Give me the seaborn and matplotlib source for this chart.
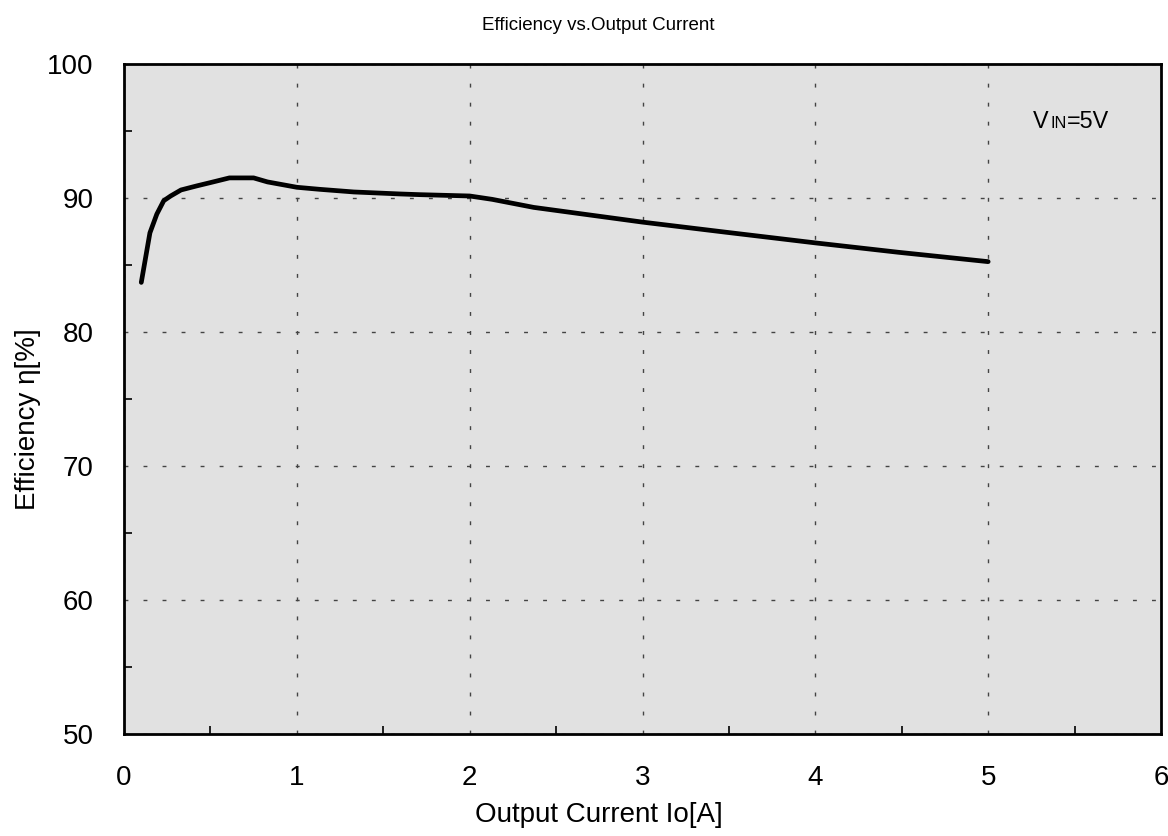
import numpy as np
import pandas as pd
import matplotlib
matplotlib.use("Agg")
import matplotlib.pyplot as plt
import seaborn as sns

# efficiency curve
current = [0.10, 0.15, 0.19, 0.23, 0.27, 0.33, 0.42, 0.50, 0.61, 0.75,
           0.83, 1.00, 1.13, 1.33, 1.60, 1.71, 2.00, 2.13, 2.37, 3.00,
           3.48, 4.00, 4.48, 5.00]
efficiency = [83.7, 87.4, 88.8, 89.8, 90.15, 90.6, 90.9, 91.15, 91.5, 91.5,
              91.2, 90.8, 90.65, 90.45, 90.3, 90.25, 90.15, 89.9, 89.3, 88.2,
              87.45, 86.65, 85.95, 85.25]
x_ticks = [0, 1, 2, 3, 4, 5, 6]
y_ticks = [50, 60, 70, 80, 90, 100]

sns.set_style("white")
plt.rcParams['font.family'] = ['Liberation Sans', 'DejaVu Sans']
plt.rcParams['text.color'] = 'black'
plt.rcParams['axes.labelcolor'] = 'black'
plt.rcParams['xtick.color'] = 'black'
plt.rcParams['ytick.color'] = 'black'

df = pd.DataFrame({'Io': current, 'eff': efficiency})

fig = plt.figure(figsize=(11.68, 8.36), dpi=100)
ax = fig.add_axes([124 / 1168, 1 - 734 / 836, (1161 - 124) / 1168, (734 - 64) / 836])
ax.set_facecolor('#e1e1e1')

sns.lineplot(data=df, x='Io', y='eff', ax=ax, color='black', linewidth=3.4,
             sort=False, solid_joinstyle='round')

ax.set_xlim(0, 6)
ax.set_ylim(50, 100)
ax.set_xticks(x_ticks)
ax.set_yticks(y_ticks)
ax.set_xticks(np.arange(0.5, 6, 1), minor=True)
ax.set_yticks(np.arange(55, 100, 10), minor=True)
ax.tick_params(axis='both', which='both', direction='in', labelsize=20,
               colors='black', width=1.2, bottom=True, left=True,
               top=False, right=False)
ax.tick_params(which='major', length=0)
ax.tick_params(which='minor', length=6)
ax.tick_params(axis='y', which='both', pad=22)
ax.tick_params(axis='x', which='both', pad=22)

ax.grid(True, which='major', color='#444444', linewidth=1.0,
        linestyle=(0, (2.8, 10.9)))
for s in ax.spines.values():
    s.set_color('black')
    s.set_linewidth(2.0)

ax.set_xlabel('Output Current Io[A]', fontsize=20, color='black')
ax.set_ylabel('Efficiency \u03b7[%]', fontsize=20, color='black')
ax.xaxis.set_label_coords((599 - 124) / 1037, -0.102)
ax.yaxis.set_label_coords(-0.08, 0.47)

fig.text(598 / 1168, 1 - 25 / 836, 'Efficiency vs.Output Current',
         fontsize=13.5, ha='center', va='center', color='black')

# VIN=5V annotation with small caps IN
ax.text(5.26, 95.2, 'V', fontsize=16.8, va='baseline', ha='left', color='black')
ax.text(5.362, 95.2, 'IN', fontsize=11.7, va='baseline', ha='left', color='black')
ax.text(5.457, 95.2, '=5V', fontsize=16.8, va='baseline', ha='left', color='black')

fig.savefig('out.png', dpi=100)
